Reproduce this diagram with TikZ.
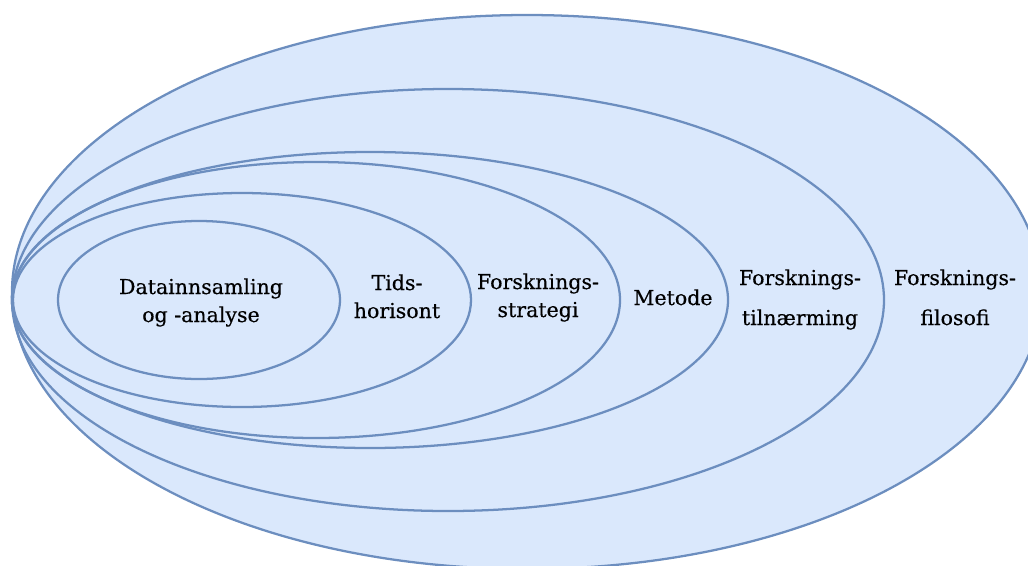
\documentclass[tikz,border=0pt]{standalone}
\usepackage{fontspec}
\setmainfont{DejaVu Serif}
\newfontfamily\lblfont[FakeBold=0.4]{DejaVu Serif}
\usetikzlibrary{shapes.geometric}
\definecolor{fillblue}{HTML}{DAE8FC}
\definecolor{lineblue}{HTML}{6C8EBF}
\begin{document}
\begin{tikzpicture}[x=0.75pt,y=-0.75pt,
  ring/.style={ellipse, draw=lineblue, line width=1.7pt, inner sep=0pt, outer sep=0pt},
  lbl/.style={anchor=base, inner sep=0pt, font=\lblfont\fontsize{15.4pt}{18pt}\selectfont, text=black}]
\useasboundingbox (0,0) rectangle (1028,565);
\clip (0,0) rectangle (1028,565);
\node[ring, fill=fillblue, minimum width=772.5pt, minimum height=415.5pt] (filosofi) at (527,292) {};
\node[ring, minimum width=654pt, minimum height=316.5pt] (tilnaerming) at (448,300) {};
\node[ring, minimum width=537pt, minimum height=222pt] (metode) at (370,300) {};
\node[ring, minimum width=456pt, minimum height=207pt] (strategi) at (316,300) {};
\node[ring, minimum width=343.5pt, minimum height=160.5pt] (tids) at (242,300) {};
\node[ring, minimum width=211.5pt, minimum height=118.5pt] (data) at (199,300) {};
% labels
\node[lbl] (dataA) at (201,294) {Datainnsamling};
\node[lbl] (dataB) at (201,322) {og -analyse};
\node[lbl] (tidsA) at (397,290) {Tids-};
\node[lbl] (tidsB) at (397,318) {horisont};
\node[lbl] (stratA) at (538,289) {Forsknings-};
\node[lbl] (stratB) at (538,317) {strategi};
\node[lbl] (metA) at (673,305) {Metode};
\node[lbl] (tilA) at (800,285) {Forsknings-};
\node[lbl] (tilB) at (800,325) {tilnærming};
\node[lbl] (filA) at (955,285) {Forsknings-};
\node[lbl] (filB) at (955,325) {filosofi};
\end{tikzpicture}
\end{document}
